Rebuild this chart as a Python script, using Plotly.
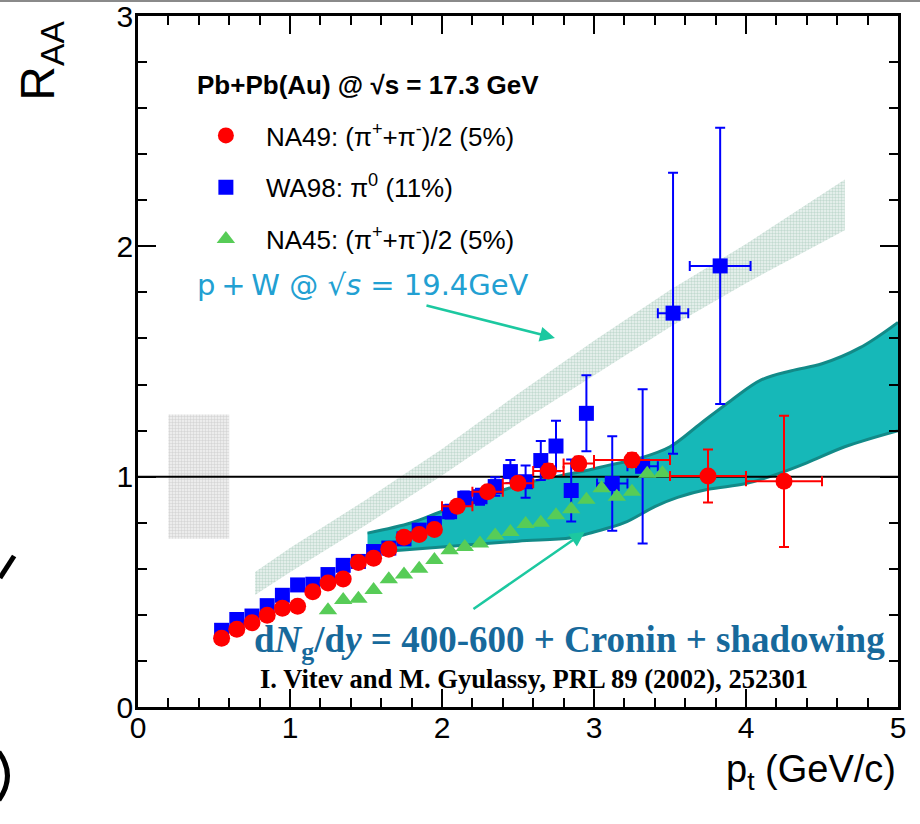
import plotly.graph_objects as go

# ---------------- data ----------------
# NA49: (pi+ + pi-)/2, 5% central
na49_pt = [0.55, 0.65, 0.75, 0.85, 0.95, 1.05, 1.15, 1.25, 1.35, 1.45, 1.55, 1.65, 1.75, 1.85, 1.95,
           2.1, 2.3, 2.5, 2.7, 2.9, 3.25, 3.75, 4.25]
na49_raa = [0.298, 0.338, 0.366, 0.398, 0.429, 0.437, 0.50, 0.538, 0.556, 0.627, 0.646, 0.685, 0.737, 0.749, 0.771,
            0.872, 0.935, 0.971, 1.025, 1.057, 1.072, 1.003, 0.98]
na49_ey = [None, None, None, None, None, None, None, None, None, None, None, None, None, None, None,
           0.02, 0.02, 0.025, 0.03, 0.03, 0.03, 0.115, 0.285]
na49_ex = [None, None, None, None, None, None, None, None, None, None, None, None, None, None, None,
           0.1, 0.1, 0.1, 0.1, 0.1, 0.25, 0.25, 0.25]

# WA98: pi0, 11% central
wa98_pt = [0.55, 0.65, 0.75, 0.85, 0.95, 1.05, 1.15, 1.25, 1.35, 1.45, 1.55, 1.65, 1.75, 1.85, 1.95,
           2.05, 2.15, 2.25, 2.35, 2.45, 2.55, 2.65, 2.75, 2.85, 2.95, 3.12, 3.32, 3.52, 3.83]
wa98_raa = [0.333, 0.38, 0.395, 0.44, 0.485, 0.53, 0.533, 0.575, 0.615, 0.632, 0.675, 0.69, 0.73, 0.768, 0.797,
            0.848, 0.906, 0.913, 0.957, 1.022, 0.978, 1.07, 1.133, 0.94, 1.275, 0.97, 1.045, 1.71, 1.915]
wa98_ey = [None, None, None, None, None, None, None, None, None, None, None, None, None, None, None,
           0.03, 0.03, 0.035, 0.04, 0.05, 0.07, 0.085, 0.11, 0.135, 0.165, 0.205, 0.335, 0.61, 0.6]
wa98_ex = [None, None, None, None, None, None, None, None, None, None, None, None, None, None, None,
           None, None, None, None, None, None, None, None, None, None, 0.1, 0.1, 0.1, 0.2]

# NA45: (pi+ + pi-)/2, 5% central
na45_pt = [1.25, 1.35, 1.45, 1.55, 1.65, 1.75, 1.85, 1.95, 2.05, 2.15, 2.25, 2.35, 2.45, 2.55, 2.65,
           2.75, 2.85, 2.95, 3.05, 3.15, 3.25, 3.35, 3.45]
na45_raa = [0.42, 0.465, 0.47, 0.508, 0.555, 0.575, 0.60, 0.638, 0.68, 0.695, 0.71, 0.745, 0.76, 0.795, 0.80,
            0.832, 0.858, 0.90, 0.95, 0.913, 0.935, 1.013, 1.015]

# p+W @ 19.4 GeV band
pw_pt = [0.77, 1.0, 1.5, 2.0, 2.5, 3.0, 3.5, 4.0, 4.65]
pw_hi = [0.586, 0.69, 0.90, 1.12, 1.36, 1.59, 1.81, 2.01, 2.29]
pw_lo = [0.486, 0.585, 0.79, 1.005, 1.23, 1.44, 1.65, 1.84, 2.07]

# GLV theory band (dNg/dy = 400-600 + Cronin + shadowing)
glv_pt_hi = [1.51, 1.8, 2.0, 2.3, 2.6, 2.9, 3.1, 3.3, 3.5, 3.7, 3.9, 4.1, 4.3, 4.5, 4.75, 5.0]
glv_hi = [0.755, 0.80, 0.85, 0.92, 0.98, 1.02, 1.05, 1.08, 1.13, 1.23, 1.33, 1.42, 1.46, 1.49, 1.56, 1.67]
glv_pt_lo = [1.51, 2.0, 2.5, 2.85, 3.0, 3.2, 3.4, 3.55, 3.75, 4.0, 4.2, 4.4, 4.65, 5.0]
glv_lo = [0.67, 0.695, 0.72, 0.735, 0.76, 0.80, 0.87, 0.91, 0.945, 0.97, 1.01, 1.06, 1.13, 1.20]

# normalisation uncertainty box
norm_x = [0.2, 0.6]
norm_y = [0.73, 1.27]

# reference line
ref_x = [0, 5]
ref_y = [1, 1]

# axis ticks
x_ticks = [0, 1, 2, 3, 4, 5]
y_ticks = [0, 1, 2, 3]

RED = "#ff0000"
BLUE = "#0000ff"
GREEN = "#57cc57"
NARROW = "Liberation Sans Narrow, Arial Narrow, Liberation Sans, Arial"

fig = go.Figure()

# normalisation box
fig.add_trace(go.Scatter(
    x=[norm_x[0], norm_x[1], norm_x[1], norm_x[0], norm_x[0]],
    y=[norm_y[0], norm_y[0], norm_y[1], norm_y[1], norm_y[0]],
    mode="lines", line=dict(width=0), fill="toself",
    fillcolor="#ececec",
    fillpattern=dict(shape=".", size=3, solidity=0.5, fgcolor="#b9b9b9", bgcolor="#f2f2f2"),
    showlegend=False, hoverinfo="skip"))

# p+W band
fig.add_trace(go.Scatter(x=pw_pt, y=pw_lo, mode="lines", line=dict(width=0),
                         showlegend=False, hoverinfo="skip"))
fig.add_trace(go.Scatter(x=pw_pt, y=pw_hi, mode="lines", line=dict(width=0), fill="tonexty",
                         fillcolor="#d6e6df",
                         fillpattern=dict(shape=".", size=3, solidity=0.5, fgcolor="#96bfae", bgcolor="#eef5f2"),
                         showlegend=False, hoverinfo="skip"))

# GLV band
fig.add_trace(go.Scatter(x=glv_pt_lo, y=glv_lo, mode="lines", line=dict(width=3, color="#128a88", shape="spline"),
                         showlegend=False, hoverinfo="skip"))
fig.add_trace(go.Scatter(x=glv_pt_hi, y=glv_hi, mode="lines", line=dict(width=3, color="#128a88", shape="spline"),
                         fill="tonexty", fillcolor="#16b8b8",
                         showlegend=False, hoverinfo="skip"))

# reference line at 1
fig.add_trace(go.Scatter(x=ref_x, y=ref_y, mode="lines", line=dict(color="black", width=2),
                         showlegend=False, hoverinfo="skip"))

# data
fig.add_trace(go.Scatter(
    x=wa98_pt, y=wa98_raa, mode="markers",
    marker=dict(symbol="square", size=15, color=BLUE),
    error_y=dict(type="data", array=wa98_ey, color=BLUE, thickness=2, width=5),
    error_x=dict(type="data", array=wa98_ex, color=BLUE, thickness=2, width=5),
    showlegend=False))
fig.add_trace(go.Scatter(
    x=na45_pt, y=na45_raa, mode="markers",
    marker=dict(symbol="triangle-up", size=16, color=GREEN),
    showlegend=False))
fig.add_trace(go.Scatter(
    x=na49_pt, y=na49_raa, mode="markers",
    marker=dict(symbol="circle", size=17, color=RED),
    error_y=dict(type="data", array=na49_ey, color=RED, thickness=2, width=5),
    error_x=dict(type="data", array=na49_ex, color=RED, thickness=2, width=5),
    showlegend=False))

# legend entries
fig.add_trace(go.Scatter(x=[None], y=[None], mode="markers", name="NA49: (π<sup>+</sup>+π<sup>-</sup>)/2 (5%)",
                         marker=dict(symbol="circle", size=17, color=RED), legendgroup="a"))
fig.add_trace(go.Scatter(x=[None], y=[None], mode="markers", name="WA98: π<sup>0</sup> (11%)",
                         marker=dict(symbol="square", size=15, color=BLUE), legendgroup="b"))
fig.add_trace(go.Scatter(x=[None], y=[None], mode="markers", name="NA45: (π<sup>+</sup>+π<sup>-</sup>)/2 (5%)",
                         marker=dict(symbol="triangle-up", size=16, color=GREEN), legendgroup="c"))

axis_common = dict(
    showline=True, linecolor="black", linewidth=2.5, mirror="ticks",
    ticks="inside", ticklen=18, tickwidth=2, tickcolor="black",
    showgrid=False, zeroline=False, tickmode="array", ticklabeloverflow="allow",
    automargin=False,
    tickfont=dict(family=NARROW, size=30, color="black"),
    minor=dict(ticks="inside", ticklen=9, tickwidth=2, tickcolor="black", dtick=0.2, tick0=0, showgrid=False),
)

fig.update_layout(
    width=920, height=824,
    margin=dict(l=138, r=22, t=16, b=117, autoexpand=False),
    paper_bgcolor="white", plot_bgcolor="white",
    xaxis=dict(range=[0, 5], tickvals=x_ticks, ticktext=[str(v) for v in x_ticks],
               ticklabelstandoff=-8, **axis_common),
    yaxis=dict(range=[0, 3], tickvals=y_ticks, ticktext=[str(v) for v in y_ticks],
               ticklabelstandoff=-4, **axis_common),
    legend=dict(x=0.063, y=0.861, xanchor="left", yanchor="top",
                bgcolor="rgba(0,0,0,0)", borderwidth=0,
                font=dict(family="Liberation Sans, Arial", size=26, color="black"),
                tracegroupgap=15, itemwidth=70),
    showlegend=True,
)

ann = []
# axis titles
ann.append(dict(text="R<sub>AA</sub>", xref="paper", yref="paper", x=-0.128, y=0.935,
                xanchor="center", yanchor="middle", textangle=-90, showarrow=False,
                font=dict(family=NARROW, size=48, color="black")))
ann.append(dict(text="p<sub>t</sub> (GeV/c)", xref="paper", yref="paper", x=1.0, y=-0.094,
                xanchor="right", yanchor="middle", showarrow=False,
                font=dict(family=NARROW, size=38, color="black")))
# legend title
ann.append(dict(text="<b>Pb+Pb(Au) @ √s = 17.3 GeV</b>", xref="paper", yref="paper", x=0.075, y=0.900,
                xanchor="left", yanchor="middle", showarrow=False,
                font=dict(family="Liberation Sans, Arial", size=26, color="black")))
# p+W label
ann.append(dict(text="p\u2009+\u2009W @ √<i>s</i> = 19.4GeV", xref="paper", yref="paper", x=0.075, y=0.611,
                xanchor="left", yanchor="middle", showarrow=False,
                font=dict(family="DejaVu Sans, Open Sans", size=29, color="#22a0d2")))
# theory label
ann.append(dict(text="<b>d<i>N</i><sub>g</sub>/d<i>y</i> = 400-600 + Cronin + shadowing</b>",
                xref="paper", yref="paper", x=0.150, y=0.093,
                xanchor="left", yanchor="middle", showarrow=False,
                font=dict(family="Liberation Serif, Times New Roman", size=37, color="#17699b")))
ann.append(dict(text="<b>I. Vitev and M. Gyulassy, PRL 89 (2002), 252301</b>",
                xref="paper", yref="paper", x=0.158, y=0.040,
                xanchor="left", yanchor="middle", showarrow=False,
                font=dict(family="Liberation Serif, Times New Roman", size=26.6, color="black")))
# arrows
ann.append(dict(x=2.743, y=1.602, ax=1.888, ay=1.745, xref="x", yref="y", axref="x", ayref="y",
                showarrow=True, arrowhead=2, arrowsize=1.2, arrowwidth=2.5, arrowcolor="#1cc8a0", text=""))
ann.append(dict(x=2.94, y=0.761, ax=2.197, ay=0.421, xref="x", yref="y", axref="x", ayref="y",
                showarrow=True, arrowhead=2, arrowsize=1.2, arrowwidth=2.5, arrowcolor="#1cc8a0", text=""))
fig.update_layout(annotations=ann)

# cropped slide fragments at the left edge and a thin frame line at the top
fig.update_layout(shapes=[
    dict(type="line", xref="paper", yref="paper", x0=-0.1816, y0=0.1867, x1=-0.163, y1=0.2185,
         line=dict(color="black", width=5)),
    dict(type="path", xref="paper", yref="paper",
         path="M -0.1830,-0.0651 Q -0.1605,-0.0990 -0.1830,-0.1346",
         line=dict(color="black", width=5)),
    dict(type="line", xref="paper", yref="paper", x0=-0.19, y0=1.0217, x1=1.04, y1=1.0217,
         line=dict(color="#8a8a8a", width=2)),
])

fig.write_html("out.html")
